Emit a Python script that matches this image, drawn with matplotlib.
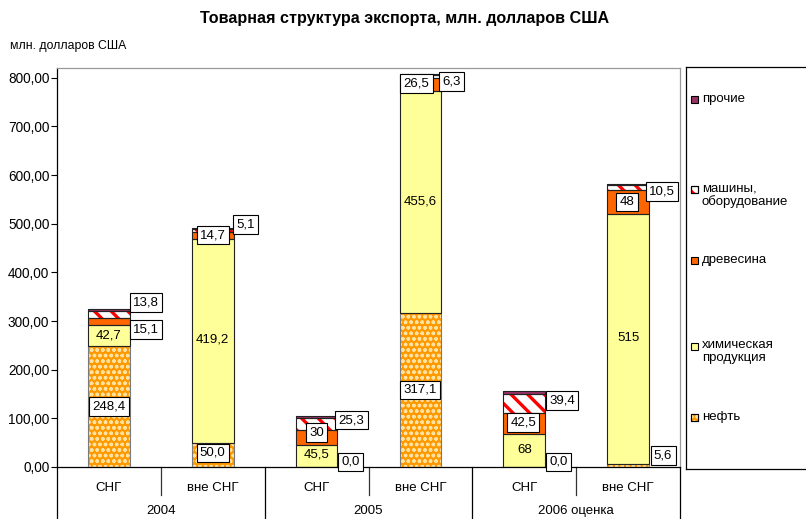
import matplotlib
matplotlib.use("Agg")
import matplotlib.pyplot as plt
from matplotlib.patches import Rectangle
import numpy as np

plt.rcParams['font.family'] = ['Liberation Sans', 'DejaVu Sans']

# ---------------- data ----------------
categories = ['СНГ', 'вне СНГ', 'СНГ', 'вне СНГ', 'СНГ', 'вне СНГ']
years = ['2004', '2005', '2006 оценка']

oil = [248.4, 50.0, 0.0, 317.1, 0.0, 5.6]
chem = [42.7, 419.2, 45.5, 455.6, 68.0, 515.0]
wood = [15.1, 14.7, 30.0, 26.5, 42.5, 48.0]
mach = [13.8, 5.1, 25.3, 6.3, 39.4, 10.5]
other = [5.0, 3.0, 5.0, 3.0, 7.0, 3.5]

oil_labels = ['248,4', '50,0', '0,0', '317,1', '0,0', '5,6']
chem_labels = ['42,7', '419,2', '45,5', '455,6', '68', '515']
wood_labels = ['15,1', '14,7', '30', '26,5', '42,5', '48']
mach_labels = ['13,8', '5,1', '25,3', '6,3', '39,4', '10,5']

series_names = ['нефть', 'химическая\nпродукция', 'древесина',
                'машины,\nоборудование', 'прочие']

yticks = [0, 100, 200, 300, 400, 500, 600, 700, 800]
ytick_labels = ['0,00', '100,00', '200,00', '300,00', '400,00',
                '500,00', '600,00', '700,00', '800,00']

title = 'Товарная структура экспорта, млн. долларов США'
unit_label = 'млн. долларов США'

# ---------------- styles ----------------
W, H = 806, 519
fig = plt.figure(figsize=(W / 100, H / 100), dpi=100)
fig.patch.set_facecolor('white')

ax = fig.add_axes([57 / W, 1 - 467 / H, (680 - 57) / W, (467 - 68) / H])
ax.set_xlim(-0.5, 5.5)
ax.set_ylim(0, 820)

x = np.arange(len(categories))
bw = 0.4

styles = [
    dict(face='#FF9900', hc='#FFE2A0', hatch='ooo', edge='#7a7a7a', hlw=1.0),
    dict(face='#FFFF99', hc=None, hatch=None, edge='#222222', hlw=None),
    dict(face='#FF6600', hc=None, hatch=None, edge='#222222', hlw=None),
    dict(face='#FFFFFF', hc='#FF0000', hatch='\\\\', edge='#222222', hlw=2.4),
    dict(face='#993366', hc=None, hatch=None, edge='#222222', hlw=None),
]
data = [oil, chem, wood, mach, other]

bottom = np.zeros(len(categories))
seg_bottoms = []
for vals, st in zip(data, styles):
    vals = np.array(vals, dtype=float)
    seg_bottoms.append(bottom.copy())
    if st['hatch']:
        bars = ax.bar(x, vals, bw, bottom=bottom, color=st['face'],
                      edgecolor=st['hc'], linewidth=0, hatch=st['hatch'], zorder=2)
        for p in bars:
            if hasattr(p, 'set_hatch_linewidth'):
                p.set_hatch_linewidth(st['hlw'])
    else:
        ax.bar(x, vals, bw, bottom=bottom, color=st['face'], linewidth=0, zorder=2)
    ax.bar(x, vals, bw, bottom=bottom, fill=False, edgecolor=st['edge'],
           linewidth=0.8, zorder=3)
    bottom = bottom + vals

# ---------------- data labels ----------------
label_sets = [
    (oil_labels, 0, True, [(0, 0), (0, 2), (34, 5), (0, 0), (34, 5), (35, 10)]),
    (chem_labels, 1, False, [(0, 0), (0, 1), (0, 1), (0, 0), (0, 0), (0, 1)]),
    (wood_labels, 2, True, [(37, -8), (0, 0), (0, 5), (-4, 1), (-1, 1), (-1, 0)]),
    (mach_labels, 3, True, [(37, 12), (33, 6), (35, 4), (31, -5), (38, 3), (34, -4)]),
]
for labels, si, boxed, offs in label_sets:
    vals = np.array(data[si], dtype=float)
    mids = seg_bottoms[si] + vals / 2
    for i, (lab, (dx, dy)) in enumerate(zip(labels, offs)):
        kw = dict(fontsize=9.5, ha='center', va='center', zorder=5,
                  xytext=(dx, dy), textcoords='offset pixels')
        if boxed:
            kw['bbox'] = dict(boxstyle='square,pad=0.25', fc='white',
                              ec='black', lw=0.8)
        ax.annotate(lab, (x[i], mids[i]), **kw)

# ---------------- axes styling ----------------
ax.set_yticks(yticks)
ax.set_yticklabels(ytick_labels, fontsize=9.8)
ax.tick_params(axis='y', length=4, width=0.8, pad=1.5, direction='out')
ax.set_xticks([])
for s in ['left', 'bottom']:
    ax.spines[s].set_color('black')
    ax.spines[s].set_linewidth(0.9)
for s in ['top', 'right']:
    ax.spines[s].set_color('#999999')
    ax.spines[s].set_linewidth(0.9)

trans = ax.get_xaxis_transform()
ax_h = 467 - 68
for i, c in enumerate(categories):
    ax.text(x[i], -21 / ax_h, c, transform=trans, ha='center', va='center',
            fontsize=9.5, clip_on=False)
for j, yr in enumerate(years):
    ax.text(2 * j + 0.5, -44 / ax_h, yr, transform=trans, ha='center',
            va='center', fontsize=9.5, clip_on=False)
for xv in [-0.5, 1.5, 3.5, 5.5]:
    ax.plot([xv, xv], [0, -60 / ax_h], transform=trans, color='black',
            lw=0.9, clip_on=False)
for xv in [0.5, 2.5, 4.5]:
    ax.plot([xv, xv], [0, -28 / ax_h], transform=trans, color='#333333',
            lw=0.9, clip_on=False)

# ---------------- titles ----------------
fig.text(405 / W, 1 - 18 / H, title, ha='center', va='center',
         fontsize=11.6, fontweight='bold')
fig.text(10 / W, 1 - 46 / H, unit_label, ha='left', va='center', fontsize=8.8)

# ---------------- legend ----------------
lg = fig.add_axes([686 / W, 1 - 469 / H, 130 / W, (469 - 67) / H])
lg.set_xlim(0, 130)
lg.set_ylim(469, 67)
lg.set_xticks([])
lg.set_yticks([])
for s in lg.spines.values():
    s.set_color('black')
    s.set_linewidth(0.9)
legend_y = [417, 346, 260, 189, 99]
for st, name, ly in zip(styles, series_names, legend_y):
    lg.add_patch(Rectangle((5, ly - 3.5), 7, 7, facecolor=st['face'],
                           edgecolor='black', lw=0.8))
    if st['hatch']:
        r2 = Rectangle((5, ly - 3.5), 7, 7, facecolor='none',
                       edgecolor=st['hc'], lw=0, hatch=st['hatch'])
        if hasattr(r2, 'set_hatch_linewidth'):
            r2.set_hatch_linewidth(st['hlw'])
        lg.add_patch(r2)
        lg.add_patch(Rectangle((5, ly - 3.5), 7, 7, facecolor='none',
                               edgecolor='black', lw=0.8))
    multi = '\n' in name
    first_line = ly - (7 if multi else 0)
    lg.text(16, first_line, name, ha='left', va='top' if multi else 'center',
            fontsize=9.5, linespacing=1.15, transform=lg.transData)

fig.savefig('out.png', dpi=100)
